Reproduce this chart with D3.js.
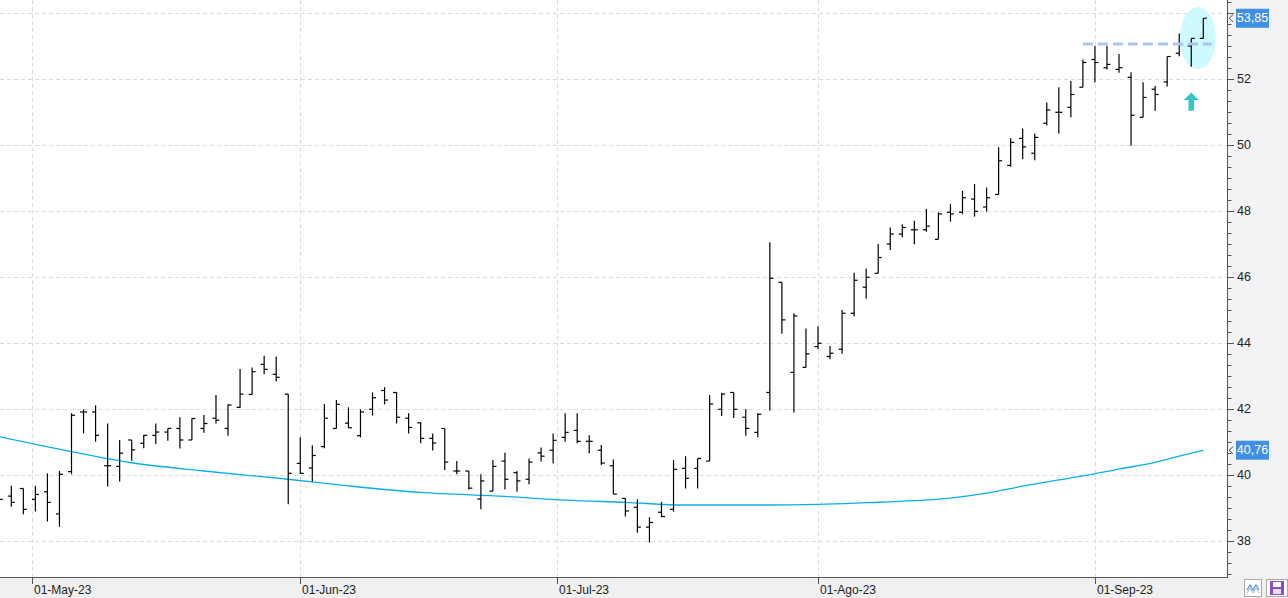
<!DOCTYPE html>
<html>
<head>
<meta charset="utf-8">
<script src="https://cdn.jsdelivr.net/npm/d3@7"></script>
<style>
body{margin:0;padding:0;background:#fff;overflow:hidden;}
svg{display:block;font-family:"Liberation Sans",Arial,sans-serif;}
</style>
</head>
<body>
<script>
// OHLC per trading day, index 0 = 26-Apr-23 ... 100 = 14-Sep-23
var opens = [39.27,39.37,39.60,39.27,39.50,38.83,40.11,41.92,41.92,40.29,40.27,41.07,40.97,41.21,41.31,41.42,41.07,41.42,41.73,41.42,
  42.06,42.45,43.36,43.06,42.46,40.36,40.22,40.87,41.42,41.58,41.20,42.00,42.57,42.51,41.73,41.59,41.12,41.42,40.13,40.13,
  39.28,39.52,40.43,40.08,39.88,40.68,40.76,41.15,41.36,41.03,40.76,40.29,39.30,39.03,38.43,38.88,38.97,40.21,40.21,40.43,
  42.00,42.51,41.76,41.30,42.51,45.85,43.12,43.27,43.90,43.60,43.82,44.91,45.70,46.12,47.01,47.31,47.44,47.44,47.15,47.97,
  47.97,48.37,48.13,48.51,49.39,50.21,49.76,50.67,51.00,51.15,51.76,52.60,52.35,52.30,52.06,50.85,51.70,51.92,52.79,53.01,53.24];
var highs = [39.40,39.68,39.60,39.68,40.06,40.13,41.88,42.00,42.12,41.57,41.07,41.07,41.22,41.57,41.42,41.76,41.73,41.83,42.43,42.15,
  43.22,43.27,43.62,43.60,42.46,41.15,40.91,42.16,42.28,42.06,42.00,42.51,42.67,42.51,41.88,41.61,41.27,41.42,40.43,40.13,
  40.03,40.46,40.68,40.13,40.51,40.84,41.27,41.88,41.88,41.21,40.92,40.48,39.30,39.27,38.73,39.20,40.46,40.58,40.51,42.43,
  42.50,42.51,42.00,41.88,47.06,45.85,44.91,44.45,44.52,43.92,45.01,46.14,46.27,47.01,47.51,47.61,47.71,48.07,47.97,48.22,
  48.62,48.83,48.72,49.94,50.21,50.51,50.36,51.30,51.76,51.95,52.60,53.01,53.01,52.77,52.21,51.91,51.80,52.69,53.39,53.24,53.85];
var lows = [39.15,39.05,38.82,38.90,38.60,38.44,40.03,41.27,41.02,39.66,39.81,40.44,40.82,40.95,41.05,40.81,41.07,41.29,41.57,41.20,
  42.05,42.45,43.06,42.84,39.12,40.04,39.81,40.82,41.42,41.44,41.15,41.81,42.15,41.57,41.27,40.97,40.75,40.16,40.03,39.57,
  38.97,39.52,39.57,39.50,39.73,40.42,40.36,41.02,40.97,40.67,40.31,39.43,38.75,38.26,37.96,38.73,38.90,39.60,39.60,40.43,
  41.80,41.74,41.20,41.15,41.96,44.29,41.90,43.27,43.82,43.52,43.68,44.81,45.35,46.12,46.83,47.21,47.00,47.38,47.15,47.69,
  47.91,47.84,47.99,48.51,49.35,49.58,49.55,50.60,50.36,50.85,51.76,51.90,52.30,52.20,49.99,50.85,51.05,51.78,52.70,52.38,53.24];
var closes = [39.27,39.18,38.97,39.42,39.18,40.03,41.82,41.92,41.21,40.29,40.67,40.77,41.21,41.31,41.42,41.07,41.72,41.57,41.67,42.13,
  42.46,43.14,43.21,42.97,40.06,40.06,40.60,41.73,42.15,41.44,41.92,42.35,42.28,41.76,41.45,41.12,40.98,40.40,40.13,39.61,
  39.83,40.27,39.88,39.83,40.40,40.58,41.06,41.30,41.03,41.03,40.37,39.43,38.92,38.43,38.57,38.75,40.18,39.91,40.51,42.16,
  42.46,42.00,41.42,41.85,45.97,44.71,44.83,43.68,44.00,43.70,44.91,45.91,46.00,46.60,47.31,47.51,47.44,47.55,47.92,47.92,
  48.41,48.00,48.41,49.53,50.09,49.95,50.24,51.07,51.00,51.54,52.51,52.51,52.45,52.35,50.91,51.45,51.54,52.69,53.05,53.24,53.85];

// moving average at some bars
var maDays   = [0,6,11,17,24,29,35,42,47,52,57,63,68,72,76,79,82,85,88,90,93,96,98,100];
var maValues = [41.17,40.72,40.38,40.13,39.88,39.68,39.48,39.36,39.25,39.18,39.10,39.10,39.12,39.17,39.23,39.31,39.46,39.67,39.86,39.98,40.19,40.39,40.58,40.76];

// month ticks (bar index position) and labels
var monthPos    = [2.75,25,46.33,68,91];
var monthLabels = ["01-May-23","01-Jun-23","01-Jul-23","01-Ago-23","01-Sep-23"];
var yTicks  = [38,40,42,44,46,48,50,52,54];
var yLabels = [38,40,42,44,46,48,50,52];

var resistance = 53.07, resFrom = 90, resTo = 100.7;
var lastPrice = 53.85, lastMa = 40.76;

var W = 1288, H = 598, plotR = 1227, plotB = 577;

var x = d3.scaleLinear().domain([0,100]).range([-0.74,1203.3]);
var y = d3.scaleLinear().domain([38,52]).range([541.3,79.3]);

var svg = d3.select("body").append("svg").attr("width",W).attr("height",H);

svg.append("clipPath").attr("id","plot").append("rect")
   .attr("x",0).attr("y",0).attr("width",plotR).attr("height",plotB);

// backgrounds
svg.append("rect").attr("x",0).attr("y",0).attr("width",plotR).attr("height",plotB).attr("fill","#fff");
svg.append("rect").attr("x",plotR).attr("y",0).attr("width",W-plotR).attr("height",plotB).attr("fill","#f3f3f6");
svg.append("rect").attr("x",0).attr("y",plotB).attr("width",W).attr("height",H-plotB).attr("fill","#f0f0f0");

var g = svg.append("g").attr("clip-path","url(#plot)");

// grid
g.selectAll("line.hg").data(yTicks).enter().append("line")
   .attr("class","hg")
   .attr("x1",0).attr("x2",plotR)
   .attr("y1",function(d){return Math.round(y(d))+0.5;})
   .attr("y2",function(d){return Math.round(y(d))+0.5;})
   .attr("stroke","#dcdcdc").attr("stroke-dasharray","4,3");
g.selectAll("line.vg").data(monthPos).enter().append("line")
   .attr("class","vg")
   .attr("y1",0).attr("y2",plotB)
   .attr("x1",function(d){return Math.round(x(d))+0.5;})
   .attr("x2",function(d){return Math.round(x(d))+0.5;})
   .attr("stroke","#dcdcdc").attr("stroke-dasharray","4,3");

// annotations behind bars
g.append("ellipse")
   .attr("cx",x(99.55)).attr("cy",y(53.25))
   .attr("rx",18).attr("ry",31)
   .attr("fill","#ccfafe");

// moving average
var ma = maDays.map(function(d,i){return [d,maValues[i]];});
g.append("path").datum(ma)
   .attr("d",d3.line().x(function(d){return x(d[0]);}).y(function(d){return y(d[1]);}).curve(d3.curveMonotoneX))
   .attr("fill","none").attr("stroke","#0aaee8").attr("stroke-width",1.3);

// OHLC bars
var bars = g.selectAll("g.bar").data(opens).enter().append("g").attr("class","bar")
   .attr("stroke","#000").attr("stroke-width",1.2);
bars.append("line")
   .attr("x1",function(d,i){return x(i);}).attr("x2",function(d,i){return x(i);})
   .attr("y1",function(d,i){return y(highs[i]);}).attr("y2",function(d,i){return y(lows[i]);});
bars.append("line")
   .attr("x1",function(d,i){return x(i)-3.5;}).attr("x2",function(d,i){return x(i);})
   .attr("y1",function(d){return y(d);}).attr("y2",function(d){return y(d);});
bars.append("line")
   .attr("x1",function(d,i){return x(i);}).attr("x2",function(d,i){return x(i)+3.5;})
   .attr("y1",function(d,i){return y(closes[i]);}).attr("y2",function(d,i){return y(closes[i]);});

// resistance
g.append("line")
   .attr("x1",x(resFrom)).attr("x2",x(resTo))
   .attr("y1",y(resistance)).attr("y2",y(resistance))
   .attr("stroke","#a9c7ee").attr("stroke-width",3).attr("stroke-dasharray","10,5");

// up arrow
var ax = x(99), at = y(51.6), ab = y(51.05);
g.append("path")
   .attr("d","M"+ax+","+at+" L"+(ax+7.5)+","+(at+7.5)+" L"+(ax+2.8)+","+(at+7.5)+" L"+(ax+2.8)+","+ab+
             " L"+(ax-2.8)+","+ab+" L"+(ax-2.8)+","+(at+7.5)+" L"+(ax-7.5)+","+(at+7.5)+"Z")
   .attr("fill","#36c8c8");

// right axis
svg.append("line").attr("x1",plotR+0.5).attr("x2",plotR+0.5).attr("y1",0).attr("y2",plotB)
   .attr("stroke","#555");
var minor = d3.range(111,164).map(function(d){return d/3;});
svg.selectAll("line.mt").data(minor).enter().append("line")
   .attr("class","mt")
   .attr("x1",plotR).attr("x2",function(d){return Math.abs(d/2-Math.round(d/2))<0.01 ? plotR+7 : plotR+4.5;})
   .attr("y1",function(d){return Math.round(y(d))+0.5;})
   .attr("y2",function(d){return Math.round(y(d))+0.5;})
   .attr("stroke","#555");
svg.selectAll("text.yl").data(yLabels).enter().append("text")
   .attr("class","yl")
   .attr("x",1237).attr("y",function(d){return y(d);})
   .attr("dominant-baseline","central")
   .attr("font-size",12.5).attr("fill","#222")
   .text(function(d){return d;});

// value boxes
function valueBox(v){
  var yy = y(v);
  svg.append("rect").attr("x",1236).attr("y",yy-9.5).attr("width",33).attr("height",19).attr("fill","#3f8fe2");
  svg.append("text").attr("x",1252.5).attr("y",yy).attr("text-anchor","middle")
     .attr("dominant-baseline","central").attr("font-size",12.5).attr("fill","#fff")
     .text(d3.format(".2f")(v).replace(".",","));
  svg.append("path").attr("d","M"+(plotR+6)+","+(yy-3.5)+" L"+(plotR+2)+","+yy+" L"+(plotR+6)+","+(yy+3.5))
     .attr("fill","none").attr("stroke","#555");
}
valueBox(lastPrice);
valueBox(lastMa);

// bottom axis
svg.append("line").attr("x1",0).attr("x2",plotR+1).attr("y1",plotB+0.5).attr("y2",plotB+0.5).attr("stroke","#555");
svg.selectAll("line.xt").data(monthPos).enter().append("line")
   .attr("class","xt")
   .attr("x1",function(d){return Math.round(x(d))+0.5;}).attr("x2",function(d){return Math.round(x(d))+0.5;})
   .attr("y1",plotB).attr("y2",plotB+7).attr("stroke","#555");
svg.selectAll("text.xl").data(monthLabels).enter().append("text")
   .attr("class","xl")
   .attr("x",function(d,i){return Math.round(x(monthPos[i]))+2;})
   .attr("y",594)
   .attr("font-size",12).attr("fill","#222")
   .text(function(d){return d;});

// little buttons bottom right
svg.append("rect").attr("x",1244.5).attr("y",579.5).attr("width",17).attr("height",17)
   .attr("fill","#fff").attr("stroke","#aaa");
svg.append("path").attr("d","M1247,590 L1250,585 L1253,590 L1256,585 L1259,590")
   .attr("fill","none").attr("stroke","#5a8fd8").attr("stroke-width",1.2);
svg.append("path").attr("d","M1247,593 L1250,588 L1253,593 L1256,588 L1259,593")
   .attr("fill","none").attr("stroke","#9bbbe8").attr("stroke-width",1);
svg.append("rect").attr("x",1266.5).attr("y",579.5).attr("width",21).attr("height",17)
   .attr("fill","#fff").attr("stroke","#aaa");
svg.append("rect").attr("x",1270).attr("y",581).attr("width",14).attr("height",14).attr("fill","#8a4fc8");
svg.append("rect").attr("x",1273).attr("y",582).attr("width",8).attr("height",5).attr("fill","#fff");
svg.append("rect").attr("x",1273).attr("y",589).attr("width",8).attr("height",5).attr("fill","#e8dcf6");
</script>
</body>
</html>
